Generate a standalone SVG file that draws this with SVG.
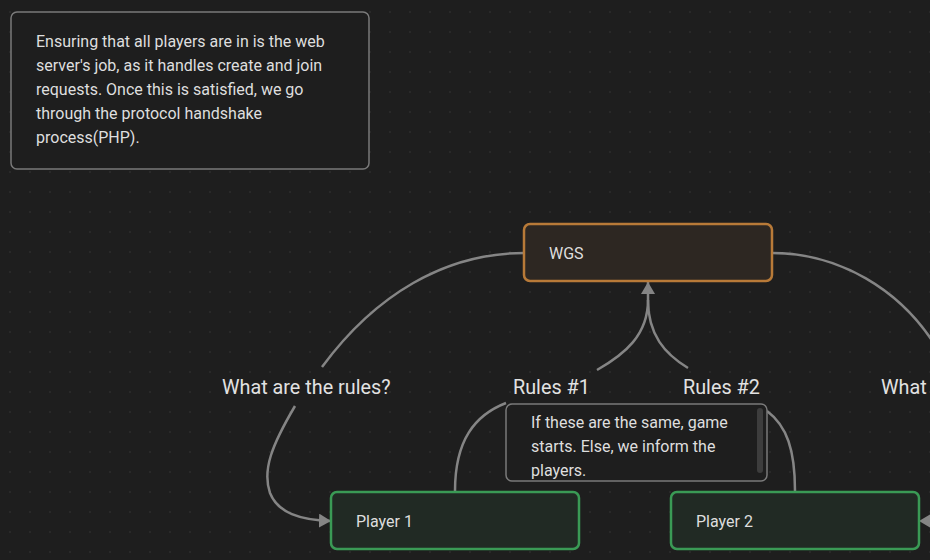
<svg xmlns="http://www.w3.org/2000/svg" width="930" height="560" viewBox="0 0 930 560">
<defs>
<pattern id="grid" x="0" y="0" width="20" height="20" patternUnits="userSpaceOnUse">
<circle cx="10" cy="12" r="0.8" fill="#363636"/>
</pattern>
<marker id="arrow" viewBox="0 0 12 14" refX="12" refY="7" markerWidth="12" markerHeight="14" markerUnits="userSpaceOnUse" orient="auto">
<path d="M0,0 L12,7 L0,14 Z" fill="#858585"/>
</marker>
<style>
.edge{fill:none;stroke:#858585;stroke-width:2.5}
.note{fill:#1e1e1e;stroke:#7a7a7a;stroke-width:1.5}
.wgs{fill:#2d2722;stroke:#b87a38;stroke-width:2.5}
.player{fill:#212a24;stroke:#3a9a55;stroke-width:2.5}
.t{font-family:Roboto,"Liberation Sans",sans-serif;fill:#dedede}
.nt{font-size:16px}
.lbl{font-size:19.8px;fill:#e2e2e2}
</style>
</defs>
<rect width="930" height="560" fill="#1e1e1e"/>
<rect width="930" height="560" fill="url(#grid)"/>

<g id="connectors">
<path class="edge" d="M524,253 C445,253 375,295 322,367"/>
<path class="edge" d="M295,406 C272,445 262,470 270,493 C278,513 300,520 331,521" marker-end="url(#arrow)"/>
<path class="edge" d="M772,253 C840,253 900,290 935,345"/>
<path class="edge" d="M455,491 C455,440 475,415 506,403"/>
<path class="edge" d="M597,370 C625,354 648,335 648,300 L648,282" marker-end="url(#arrow)"/>
<path class="edge" d="M688,368 C665,354 648,335 648,300"/>
<path class="edge" d="M795,491 C795,450 787,426 767,411"/>
<path d="M931,514 L919,521 L931,528 Z" fill="#858585"/>
<text class="t lbl" x="222" y="394">What are the rules?</text>
<text class="t lbl" x="513" y="394">Rules #1</text>
<text class="t lbl" x="683" y="394">Rules #2</text>
<text class="t lbl" x="881" y="394">What are the rules?</text>
</g>

<g id="note-top">
<rect class="note" x="11" y="12" width="358" height="157" rx="6"/>
<text class="t nt" x="36" y="47">Ensuring that all players are in is the web</text>
<text class="t nt" x="36" y="71">server's job, as it handles create and join</text>
<text class="t nt" x="36" y="95">requests. Once this is satisfied, we go</text>
<text class="t nt" x="36" y="119">through the protocol handshake</text>
<text class="t nt" x="36" y="143">process(PHP).</text>
</g>

<g id="wgs">
<rect class="wgs" x="524" y="224" width="248" height="57" rx="6"/>
<text class="t nt" x="549" y="259">WGS</text>
</g>

<g id="note-mid">
<rect class="note" x="506" y="404" width="261" height="77" rx="6"/>
<rect x="757" y="408" width="6" height="65" rx="3" fill="#3d3d3d"/>
<text class="t nt" x="531" y="428">If these are the same, game</text>
<text class="t nt" x="531" y="452">starts. Else, we inform the</text>
<text class="t nt" x="531" y="476">players.</text>
</g>

<g id="player1">
<rect class="player" x="331" y="492" width="248" height="57" rx="6"/>
<text class="t nt" x="356" y="527">Player 1</text>
</g>

<g id="player2">
<rect class="player" x="671" y="492" width="248" height="57" rx="6"/>
<text class="t nt" x="696" y="527">Player 2</text>
</g>
</svg>
